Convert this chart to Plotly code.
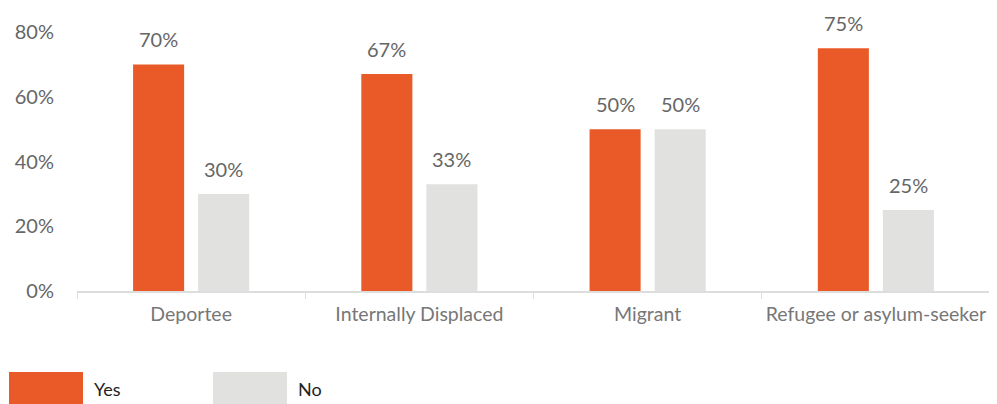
import plotly.graph_objects as go

categories = ["Deportee", "Internally Displaced", "Migrant", "Refugee or asylum-seeker"]
yes_values = [70, 67, 50, 75]
no_values = [30, 33, 50, 25]
y_ticks = [0, 20, 40, 60, 80]
y_tick_labels = ["0%", "20%", "40%", "60%", "80%"]
series_names = ["Yes", "No"]
series_colors = ["#EA5A28", "#E1E1E0"]

FONT = "Lato"
OFF = 8  # page body margin offset
W, H = 997, 404
# target pixel positions in the window
PL, PR, PT, PB = 77, 990, 32, 291
ML = PL - OFF
MT = PT - OFF
MR = W - (PR - OFF)
MB = H - (PB - OFF)
pw = PR - PL
ph = PB - PT

fig = go.Figure()
for name, vals, col in zip(series_names, [yes_values, no_values], series_colors):
    fig.add_trace(go.Bar(x=categories, y=vals, name=name, marker=dict(color=col, line=dict(width=0)),
                         showlegend=False, hoverinfo="x+y"))

bargap = 0.43
offset_px = pw / len(categories) * (1 - bargap) / 4
annotations = []
for vals, sign in [(yes_values, -1), (no_values, 1)]:
    for c, v in zip(categories, vals):
        annotations.append(dict(x=c, y=v, xref="x", yref="y", text=f"{v}%", showarrow=False,
                                xshift=sign * offset_px, yshift=11, yanchor="bottom",
                                font=dict(family=FONT, size=20, color="#666666")))

# custom legend (window pixel coords -> paper coords)
def px_to_paper_x(px):
    return (px - PL) / pw

def px_to_paper_y(py):
    return (PB - py) / ph

shapes = []
legend_x = [9, 213]
for lx, name, col in zip(legend_x, series_names, series_colors):
    shapes.append(dict(type="rect", xref="paper", yref="paper",
                       x0=px_to_paper_x(lx), x1=px_to_paper_x(lx + 74),
                       y0=px_to_paper_y(372), y1=px_to_paper_y(412),
                       fillcolor=col, line=dict(width=0), layer="above"))
    annotations.append(dict(x=px_to_paper_x(lx + 83), y=px_to_paper_y(389), xref="paper", yref="paper",
                            text=name, showarrow=False, xanchor="left", yanchor="middle",
                            font=dict(family=FONT, size=18, color="#222222")))

fig.update_layout(
    width=W, height=H,
    margin=dict(l=ML, r=MR, t=MT, b=MB, pad=0, autoexpand=False),
    paper_bgcolor="white", plot_bgcolor="white",
    barmode="group", bargap=bargap, bargroupgap=0.215,
    font=dict(family=FONT, color="#666666"),
    annotations=annotations, shapes=shapes,
    xaxis=dict(type="category", showgrid=False, showline=True, linecolor="#DDDDDD", linewidth=2,
               ticks="outside", tickson="boundaries", ticklen=6, tickcolor="#DDDDDD", tickwidth=1,
               tickangle=0, automargin=False,
               tickfont=dict(family=FONT, size=19.5, color="#777777"), ticklabelstandoff=5),
    yaxis=dict(range=[0, 80], tickvals=y_ticks, ticktext=y_tick_labels, showgrid=False,
               zeroline=False, showline=False, ticks="", ticklabelstandoff=22, automargin=False,
               tickfont=dict(family=FONT, size=20, color="#666666")),
)

fig.write_html("out.html")
